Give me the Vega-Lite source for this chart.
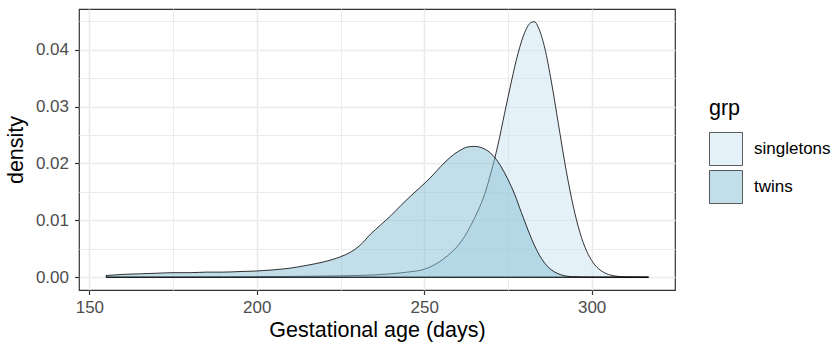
{
  "$schema": "https://vega.github.io/schema/vega-lite/v6.json",
  "width": 596,
  "height": 281,
  "autosize": {"type": "none"},
  "padding": {"left": 79, "top": 9, "right": 163, "bottom": 57},
  "background": "white",
  "config": {
    "font": "Liberation Sans",
    "view": {"stroke": "#333333", "strokeWidth": 1.2},
    "axis": {
      "domain": false,
      "tickColor": "#333333",
      "tickSize": 4.5,
      "tickWidth": 1.2,
      "gridColor": "#ebebeb",
      "labelColor": "#4d4d4d",
      "labelFontSize": 17,
      "titleFontSize": 21.5,
      "titleColor": "black",
      "titleFontWeight": "normal"
    }
  },
  "datasets": {
    "singletons": [
      {"age": 155, "density": 0.00002, "grp": "singletons"},
      {"age": 170, "density": 0.00003, "grp": "singletons"},
      {"age": 180, "density": 0.00005, "grp": "singletons"},
      {"age": 190, "density": 0.00007, "grp": "singletons"},
      {"age": 200, "density": 0.0001, "grp": "singletons"},
      {"age": 210, "density": 0.00014, "grp": "singletons"},
      {"age": 220, "density": 0.0002, "grp": "singletons"},
      {"age": 230, "density": 0.0003, "grp": "singletons"},
      {"age": 235, "density": 0.0004, "grp": "singletons"},
      {"age": 240, "density": 0.0006, "grp": "singletons"},
      {"age": 245, "density": 0.0009, "grp": "singletons"},
      {"age": 250, "density": 0.0014, "grp": "singletons"},
      {"age": 254, "density": 0.0025, "grp": "singletons"},
      {"age": 257, "density": 0.0038, "grp": "singletons"},
      {"age": 260, "density": 0.0055, "grp": "singletons"},
      {"age": 262, "density": 0.0071, "grp": "singletons"},
      {"age": 264, "density": 0.0092, "grp": "singletons"},
      {"age": 266, "density": 0.0116, "grp": "singletons"},
      {"age": 268, "density": 0.0145, "grp": "singletons"},
      {"age": 270, "density": 0.0185, "grp": "singletons"},
      {"age": 272, "density": 0.0232, "grp": "singletons"},
      {"age": 274, "density": 0.0288, "grp": "singletons"},
      {"age": 276, "density": 0.0343, "grp": "singletons"},
      {"age": 278, "density": 0.0393, "grp": "singletons"},
      {"age": 280, "density": 0.043, "grp": "singletons"},
      {"age": 282, "density": 0.0448, "grp": "singletons"},
      {"age": 283, "density": 0.0449, "grp": "singletons"},
      {"age": 284, "density": 0.044, "grp": "singletons"},
      {"age": 286, "density": 0.0403, "grp": "singletons"},
      {"age": 288, "density": 0.0343, "grp": "singletons"},
      {"age": 290, "density": 0.0272, "grp": "singletons"},
      {"age": 292, "density": 0.0201, "grp": "singletons"},
      {"age": 294, "density": 0.0139, "grp": "singletons"},
      {"age": 296, "density": 0.0089, "grp": "singletons"},
      {"age": 298, "density": 0.0053, "grp": "singletons"},
      {"age": 300, "density": 0.00295, "grp": "singletons"},
      {"age": 302, "density": 0.00153, "grp": "singletons"},
      {"age": 304, "density": 0.00074, "grp": "singletons"},
      {"age": 306, "density": 0.00033, "grp": "singletons"},
      {"age": 308, "density": 0.00014, "grp": "singletons"},
      {"age": 310, "density": 0.00005, "grp": "singletons"},
      {"age": 317, "density": 0.00001, "grp": "singletons"}
    ],
    "twins": [
      {"age": 155, "density": 0.0003, "grp": "twins"},
      {"age": 160, "density": 0.0005, "grp": "twins"},
      {"age": 165, "density": 0.0006, "grp": "twins"},
      {"age": 170, "density": 0.0007, "grp": "twins"},
      {"age": 175, "density": 0.0008, "grp": "twins"},
      {"age": 180, "density": 0.0008, "grp": "twins"},
      {"age": 185, "density": 0.0009, "grp": "twins"},
      {"age": 190, "density": 0.0009, "grp": "twins"},
      {"age": 195, "density": 0.001, "grp": "twins"},
      {"age": 200, "density": 0.0011, "grp": "twins"},
      {"age": 205, "density": 0.0013, "grp": "twins"},
      {"age": 210, "density": 0.0016, "grp": "twins"},
      {"age": 215, "density": 0.0021, "grp": "twins"},
      {"age": 220, "density": 0.0027, "grp": "twins"},
      {"age": 225, "density": 0.0036, "grp": "twins"},
      {"age": 228, "density": 0.0044, "grp": "twins"},
      {"age": 231, "density": 0.0057, "grp": "twins"},
      {"age": 234, "density": 0.0076, "grp": "twins"},
      {"age": 237, "density": 0.0092, "grp": "twins"},
      {"age": 240, "density": 0.0108, "grp": "twins"},
      {"age": 243, "density": 0.0126, "grp": "twins"},
      {"age": 246, "density": 0.0143, "grp": "twins"},
      {"age": 249, "density": 0.0159, "grp": "twins"},
      {"age": 252, "density": 0.0176, "grp": "twins"},
      {"age": 255, "density": 0.0195, "grp": "twins"},
      {"age": 258, "density": 0.0212, "grp": "twins"},
      {"age": 261, "density": 0.0224, "grp": "twins"},
      {"age": 263, "density": 0.0229, "grp": "twins"},
      {"age": 265, "density": 0.023, "grp": "twins"},
      {"age": 267, "density": 0.0228, "grp": "twins"},
      {"age": 269, "density": 0.0222, "grp": "twins"},
      {"age": 271, "density": 0.0211, "grp": "twins"},
      {"age": 273, "density": 0.0194, "grp": "twins"},
      {"age": 275, "density": 0.0172, "grp": "twins"},
      {"age": 277, "density": 0.0146, "grp": "twins"},
      {"age": 279, "density": 0.0114, "grp": "twins"},
      {"age": 281, "density": 0.0083, "grp": "twins"},
      {"age": 283, "density": 0.0055, "grp": "twins"},
      {"age": 285, "density": 0.0033, "grp": "twins"},
      {"age": 287, "density": 0.0018, "grp": "twins"},
      {"age": 289, "density": 0.0009, "grp": "twins"},
      {"age": 291, "density": 0.0004, "grp": "twins"},
      {"age": 294, "density": 0.0001, "grp": "twins"},
      {"age": 300, "density": 0.00002, "grp": "twins"},
      {"age": 317, "density": 0.0, "grp": "twins"}
    ]
  },
  "encoding": {
    "x": {
      "field": "age",
      "type": "quantitative",
      "scale": {"domain": [146.9, 324.9], "nice": false, "zero": false},
      "axis": {
        "title": "Gestational age (days)",
        "values": [150, 175, 200, 225, 250, 275, 300],
        "format": "d",
        "labelExpr": "datum.value % 50 === 0 ? datum.label : ''",
        "tickOpacity": {"condition": {"test": "datum.value % 50 !== 0", "value": 0}, "value": 1},
        "gridWidth": {"condition": {"test": "datum.value % 50 !== 0", "value": 1.0}, "value": 1.6},
        "labelPadding": 5,
        "titlePadding": 4
      }
    },
    "y": {
      "field": "density",
      "type": "quantitative",
      "stack": null,
      "scale": {"domain": [-0.002245, 0.047145], "nice": false, "zero": false},
      "axis": {
        "title": "density",
        "values": [0, 0.005, 0.01, 0.015, 0.02, 0.025, 0.03, 0.035, 0.04, 0.045],
        "labelExpr": "abs(datum.value * 100 - round(datum.value * 100)) < 0.001 ? format(datum.value, '.2f') : ''",
        "tickOpacity": {"condition": {"test": "abs(datum.value * 100 - round(datum.value * 100)) > 0.001", "value": 0}, "value": 1},
        "gridWidth": {"condition": {"test": "abs(datum.value * 100 - round(datum.value * 100)) > 0.001", "value": 1.0}, "value": 1.6},
        "labelPadding": 6,
        "titlePadding": 8
      }
    },
    "y2": {"datum": 0},
    "color": {
      "field": "grp",
      "type": "nominal",
      "scale": {"domain": ["singletons", "twins"], "range": ["#cbe3f1", "#85bfd3"]},
      "legend": {
        "title": "grp",
        "orient": "none",
        "legendX": 630,
        "legendY": 88.5,
        "padding": 0,
        "symbolType": "square",
        "symbolSize": 1089,
        "symbolStrokeColor": "#333333",
        "symbolStrokeWidth": 0.8,
        "labelFontSize": 17,
        "labelColor": "black",
        "labelOffset": 11,
        "titleFontSize": 21.5,
        "titleColor": "black",
        "titleFontWeight": "normal",
        "titlePadding": 13,
        "rowPadding": 0,
        "encode": {"symbols": {"update": {"fillOpacity": {"value": 0.5}}}}
      }
    }
  },
  "layer": [
    {
      "data": {"name": "singletons"},
      "mark": {"type": "area", "fillOpacity": 0.5, "stroke": "black", "strokeWidth": 0.8, "interpolate": "monotone"}
    },
    {
      "data": {"name": "twins"},
      "mark": {"type": "area", "fillOpacity": 0.5, "stroke": "black", "strokeWidth": 0.8, "interpolate": "monotone"}
    }
  ]
}
